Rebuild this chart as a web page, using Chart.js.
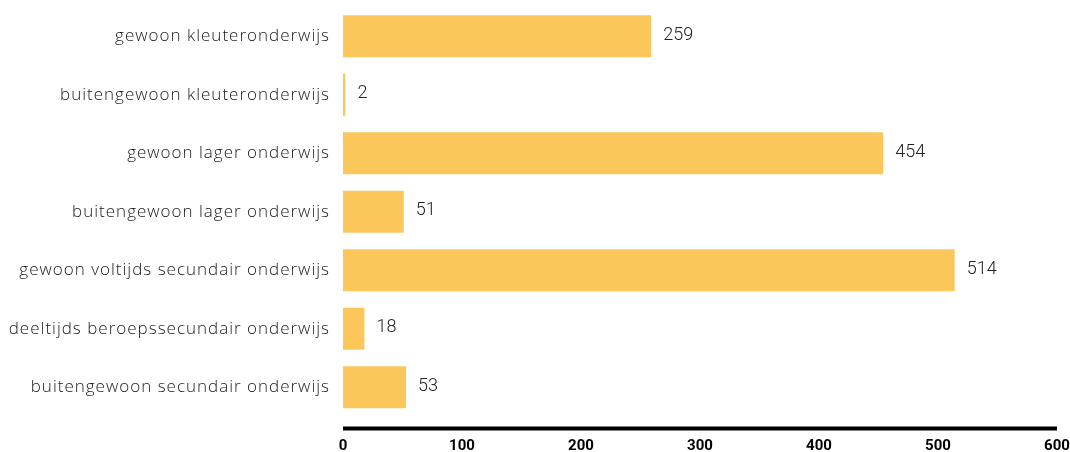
<!DOCTYPE html>
<html>
<head>
<meta charset="utf-8">
<script src="https://cdn.jsdelivr.net/npm/chart.js@4"></script>
<style>
  html, body { margin: 0; padding: 0; background: #fff; }
  #wrap { width: 1070px; height: 452px; }
</style>
</head>
<body>
<div id="wrap"><canvas id="onderwijsChart"></canvas></div>
<script>
// categories and values
const categories = [
    'gewoon kleuteronderwijs',
    'buitengewoon kleuteronderwijs',
    'gewoon lager onderwijs',
    'buitengewoon lager onderwijs',
    'gewoon voltijds secundair onderwijs',
    'deeltijds beroepssecundair onderwijs',
    'buitengewoon secundair onderwijs'
];
const counts = [259, 2, 454, 51, 514, 18, 53];
const xTicks = [0, 100, 200, 300, 400, 500, 600];

const barColor = '#fbc65a';

// draws the number next to each bar
const valueLabels = {
    id: 'valueLabels',
    afterDatasetsDraw(chart) {
        const ctx = chart.ctx;
        const meta = chart.getDatasetMeta(0);
        ctx.save();
        ctx.font = '300 18px Roboto';
        ctx.fillStyle = '#222';
        ctx.textBaseline = 'middle';
        ctx.textAlign = 'left';
        meta.data.forEach(function (bar, i) {
            ctx.fillText(String(counts[i]), bar.x + 12, bar.y - 1);
        });
        ctx.restore();
    }
};

// thick black base line a little below the last bar
const baseLine = {
    id: 'baseLine',
    afterDraw(chart) {
        const ctx = chart.ctx;
        const area = chart.chartArea;
        const y = area.bottom + 12;
        ctx.save();
        ctx.strokeStyle = '#000';
        ctx.lineWidth = 4;
        ctx.beginPath();
        ctx.moveTo(area.left, y);
        ctx.lineTo(area.right, y);
        ctx.stroke();
        ctx.restore();
    }
};

// the category labels in the original are set a bit wider
const spacedLabels = {
    id: 'spacedLabels',
    afterLayout(chart) {
        const yScale = chart.scales.y;
        if (yScale._spaced) return;
        const orig = yScale.drawLabels;
        yScale.drawLabels = function (area) {
            const c = this.ctx;
            c.save();
            c.letterSpacing = '1px';
            orig.call(this, area);
            c.restore();
        };
        yScale._spaced = true;
    }
};

const ctx = document.getElementById('onderwijsChart').getContext('2d');
new Chart(ctx, {
    type: 'bar',
    data: {
        labels: categories,
        datasets: [{
            data: counts,
            backgroundColor: barColor,
            borderWidth: 0,
            barPercentage: 0.72,
            categoryPercentage: 1
        }]
    },
    options: {
        indexAxis: 'y',
        responsive: true,
        maintainAspectRatio: false,
        animation: false,
        layout: { padding: { top: 7, right: 13, bottom: 0, left: 0 } },
        plugins: {
            legend: { display: false },
            tooltip: { enabled: false }
        },
        scales: {
            x: {
                min: 0,
                max: 600,
                afterBuildTicks(scale) {
                    scale.ticks = xTicks.map(v => ({ value: v }));
                },
                afterFit(scale) {
                    scale.height = 35.5;
                    scale.paddingLeft = 0;
                    scale.paddingRight = 0;
                },
                grid: { display: false },
                border: { display: false },
                ticks: {
                    padding: 13,
                    maxRotation: 0,
                    color: '#000',
                    font: { family: 'Roboto', size: 15, weight: 'bold' }
                }
            },
            y: {
                afterFit(scale) {
                    scale.width = 343;
                    scale.paddingTop = 0;
                    scale.paddingBottom = 0;
                },
                grid: { display: false },
                border: { display: false },
                ticks: {
                    padding: 5,
                    color: '#1a1a1a',
                    font: { family: 'Open Sans', size: 17, weight: 300 }
                }
            }
        }
    },
    plugins: [valueLabels, baseLine, spacedLabels]
});
</script>
</body>
</html>
